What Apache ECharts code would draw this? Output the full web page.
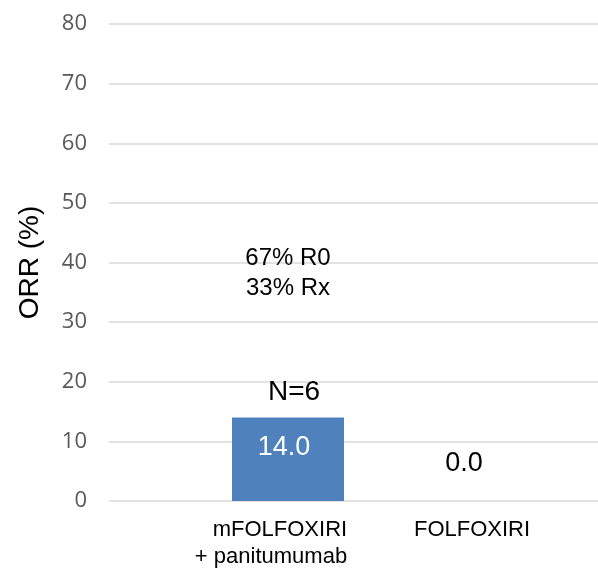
<!DOCTYPE html>
<html>
<head>
<meta charset="utf-8">
<script src="https://cdn.jsdelivr.net/npm/echarts@6/dist/echarts.min.js"></script>
<style>
  html, body { margin: 0; padding: 0; background: #ffffff; }
  #chart { width: 598px; height: 568px; }
</style>
</head>
<body>
<div id="chart"></div>
<script>
// Objective response rate by treatment arm
const categories = ['mFOLFOXIRI\n+ panitumumab', 'FOLFOXIRI'];
const orrValues = [14.0, 0.0];
const sampleSizes = ['N=6', ''];
const resectionNotes = [['67% R0', '33% Rx'], []];
const yTicks = [0, 10, 20, 30, 40, 50, 60, 70, 80];

const SANS = "'Liberation Sans', Arial, sans-serif";
const yMin = yTicks[0];
const yMax = yTicks[yTicks.length - 1];
const yStep = yTicks[1] - yTicks[0];

const chart = echarts.init(document.getElementById('chart'), null, { renderer: 'canvas' });

// value labels: inside the bar when it has height, above it otherwise
const barItems = orrValues.map(function (v) {
  const inside = v > 0;
  return {
    value: v,
    label: inside
      ? { position: 'insideTop', distance: 16, color: '#ffffff', padding: [0, 8, 0, 0] }
      : { position: 'top', distance: 23, color: '#000000' }
  };
});

function noteLabel(params) {
  const i = params.dataIndex;
  const notes = resectionNotes[i];
  const n = sampleSizes[i];
  if (!notes.length && !n) return '';
  const lines = notes.map(function (t) { return '{note|' + t + '}'; });
  lines.push('{gap| }');
  lines.push('{n|' + n + '}');
  return lines.join('\n');
}

function categoryLabel(value, index) {
  const style = index === 0 ? 'first' : 'second';
  return value.split('\n').map(function (t) { return '{' + style + '|' + t + '}'; }).join('\n');
}

const option = {
  backgroundColor: '#ffffff',
  animation: false,
  grid: [
    { left: 109, right: 0, top: 24, bottom: 67, containLabel: false },
    { left: 200, right: 46, top: 24, bottom: 67, containLabel: false }
  ],
  xAxis: [
    { gridIndex: 0, type: 'category', data: [''], show: false },
    {
      gridIndex: 1,
      type: 'category',
      data: categories,
      axisLine: { show: false },
      axisTick: { show: false },
      axisLabel: {
        margin: 15,
        interval: 0,
        formatter: categoryLabel,
        rich: {
          first: { fontFamily: SANS, fontSize: 22, lineHeight: 27, color: '#000000', align: 'right', padding: [0, 34, 0, 0] },
          second: { fontFamily: SANS, fontSize: 22, lineHeight: 27, color: '#000000', padding: [0, 0, 0, 16] }
        }
      }
    }
  ],
  yAxis: [
    {
      gridIndex: 0,
      type: 'value',
      min: yMin,
      max: yMax,
      interval: yStep,
      name: 'ORR (%)',
      nameLocation: 'middle',
      nameGap: 65,
      nameTextStyle: { fontFamily: SANS, fontSize: 28, color: '#000000' },
      axisLine: { show: false },
      axisTick: { show: false },
      axisLabel: { margin: 22, fontFamily: "'Open Sans', sans-serif", fontSize: 22, color: '#595959' },
      splitLine: { show: true, lineStyle: { color: '#d9d9d9', width: 1.5 } }
    },
    {
      gridIndex: 1,
      type: 'value',
      min: yMin,
      max: yMax,
      interval: yStep,
      show: false,
      splitLine: { show: false }
    }
  ],
  series: [
    {
      name: 'ORR',
      type: 'bar',
      xAxisIndex: 1,
      yAxisIndex: 1,
      data: barItems,
      barWidth: 112,
      barGap: '-100%',
      itemStyle: { color: '#4f81bd' },
      label: {
        show: true,
        fontFamily: SANS,
        fontSize: 27,
        lineHeight: 28,
        formatter: function (p) { return p.value.toFixed(1); }
      },
      silent: true
    },
    {
      name: 'notes',
      type: 'bar',
      xAxisIndex: 1,
      yAxisIndex: 1,
      data: orrValues,
      barWidth: 112,
      barGap: '-100%',
      itemStyle: { color: 'rgba(0,0,0,0)' },
      label: {
        show: true,
        position: 'top',
        distance: 10,
        formatter: noteLabel,
        rich: {
          note: { fontFamily: SANS, fontSize: 24, lineHeight: 30, color: '#000000' },
          gap: { fontSize: 10, lineHeight: 74 },
          n: { fontFamily: SANS, fontSize: 28, lineHeight: 30, color: '#000000', padding: [0, 0, 0, 12] }
        }
      },
      silent: true
    }
  ]
};

chart.setOption(option);
</script>
</body>
</html>
